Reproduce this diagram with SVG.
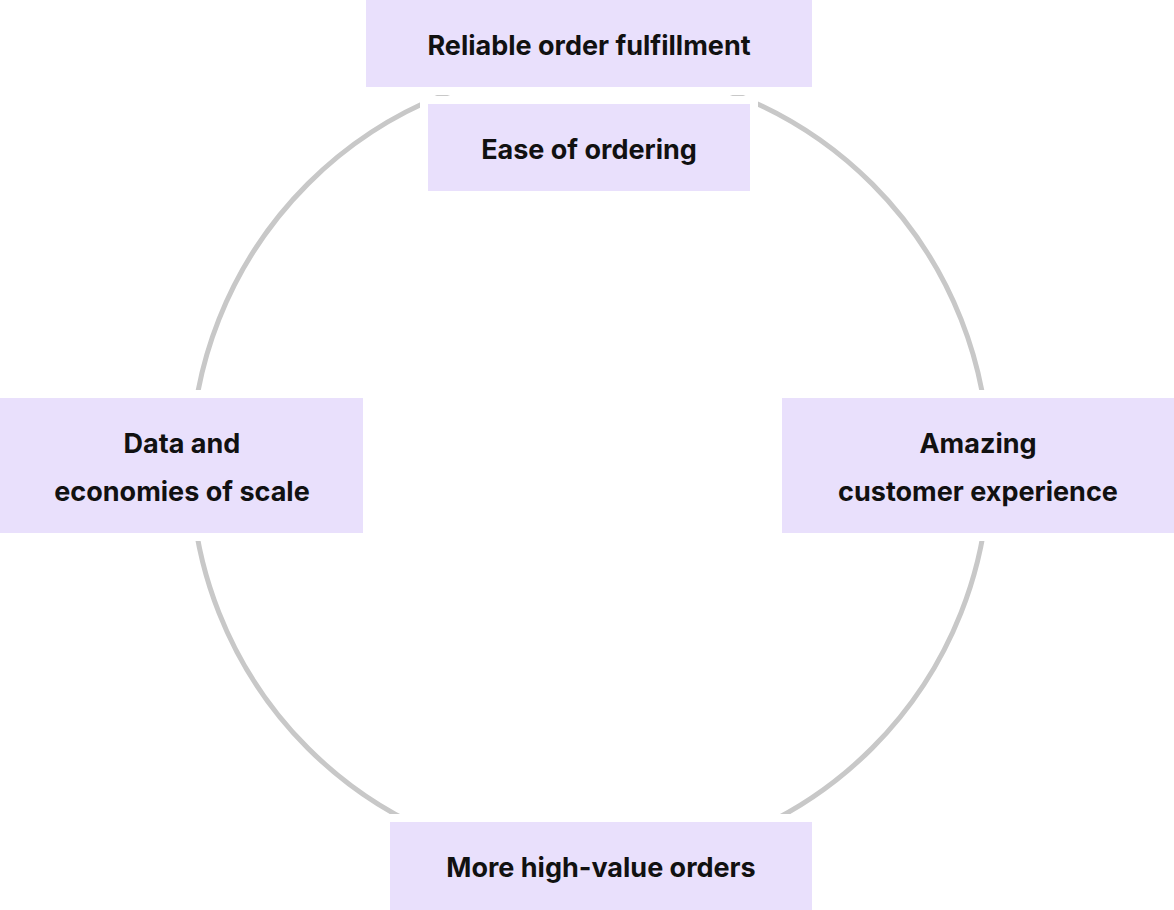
<svg xmlns="http://www.w3.org/2000/svg" width="1174" height="910" viewBox="0 0 1174 910">
<style>
.b{fill:#e9e0fc;stroke:#fff;stroke-width:16;paint-order:stroke}
.t{font-family:"Inter","Liberation Sans",sans-serif;font-weight:700;font-size:27px;fill:#111;text-anchor:middle}
</style>
<rect width="1174" height="910" fill="#fff"/>
<g id="connectors"><circle cx="590" cy="466" r="399" fill="none" stroke="#c8c8c8" stroke-width="5"/></g>
<g id="n1"><rect class="b" x="366" y="-10" width="446" height="97"/><text class="t" x="589" y="55">Reliable order fulfillment</text></g>
<g id="n2"><rect class="b" x="428" y="104" width="322" height="87"/><text class="t" x="589" y="159">Ease of ordering</text></g>
<g id="n3"><rect class="b" x="782" y="398" width="400" height="135"/><text class="t" x="978" y="453">Amazing</text><text class="t" x="978" y="501">customer experience</text></g>
<g id="n4"><rect class="b" x="390" y="822" width="422" height="98"/><text class="t" x="601" y="877">More high-value orders</text></g>
<g id="n5"><rect class="b" x="-10" y="398" width="373" height="135"/><text class="t" x="182" y="453">Data and</text><text class="t" x="182" y="501">economies of scale</text></g>
</svg>
